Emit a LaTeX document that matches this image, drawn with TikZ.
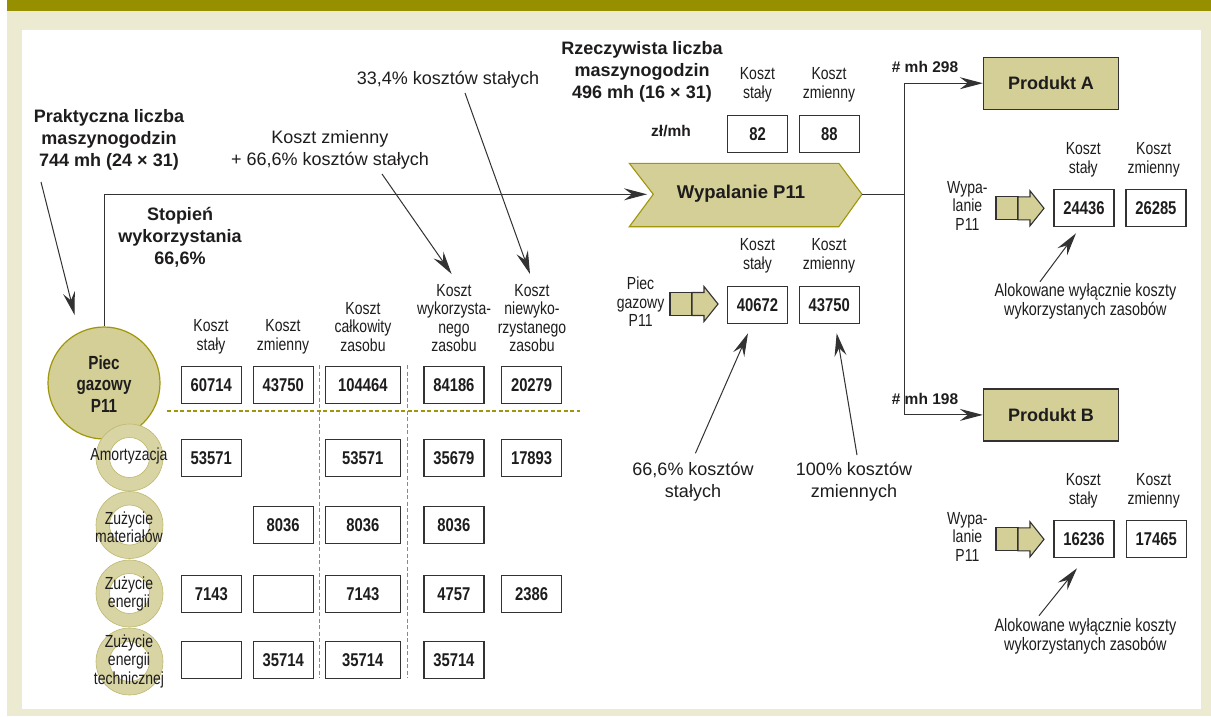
\documentclass[tikz,border=0pt]{standalone}
\usepackage{fontspec}
\setmainfont{Liberation Sans}
\newfontfamily\cnd{Liberation Sans}[FakeStretch=0.8]
\usetikzlibrary{arrows.meta,calc}
\definecolor{olivebar}{RGB}{150,144,0}
\definecolor{beige}{RGB}{236,234,208}
\definecolor{lolive}{RGB}{211,207,150}
\definecolor{ringc}{RGB}{216,212,164}
\definecolor{ringl}{RGB}{190,184,110}
\definecolor{oline}{RGB}{160,150,10}
\definecolor{dk}{RGB}{50,50,50}
\definecolor{txt}{RGB}{30,28,28}
\begin{document}
\begin{tikzpicture}[x=1pt,y=-1pt,
  every node/.style={text=txt},
  ann/.style={font=\fontsize{18}{22}\selectfont, align=center, inner sep=0pt},
  ttl/.style={font=\bfseries\fontsize{18}{22}\selectfont, align=center, inner sep=0pt},
  smallbold/.style={font=\bfseries\fontsize{15.5}{18}\selectfont, inner sep=0pt},
  lbl/.style={font=\cnd\fontsize{17.5}{18.5}\selectfont, align=center, inner sep=0pt},
  numbox/.style={draw=dk, line width=1.3pt, fill=white, minimum width=60pt, minimum height=37pt, inner sep=0pt, font=\cnd\bfseries\fontsize{18.5}{20}\selectfont},
  widebox/.style={numbox, minimum width=75pt},
  prodbox/.style={draw=dk, line width=1.4pt, fill=lolive, minimum width=135pt, minimum height=52pt, inner sep=0pt, font=\bfseries\fontsize{18}{22}\selectfont},
  conn/.style={draw=dk, line width=1pt},
  arr/.style={conn, -{Stealth[length=23pt,width=12pt,inset=8pt]}},
  dsh/.style={draw=oline, line width=1.1pt, dash pattern=on 4pt off 2.5pt},
  iconst/.style={fill=lolive, draw=dk, line width=1.1pt, line join=miter},
  blkarrow/.pic={
    \filldraw[iconst] (0,-11.5) rectangle (22,11.5);
    \filldraw[iconst] (22,-11.5) -- (34,-11.5) -- (34,-17.5) -- (48,0) -- (34,17.5) -- (34,11.5) -- (22,11.5) -- cycle;
  }
]
\useasboundingbox (0,0) rectangle (1211,716);
% background
\fill[white] (0,0) rectangle (1211,716);
\fill[beige] (7,0) rectangle (1211,716);
\fill[olivebar] (7,0) rectangle (1211,11);
\fill[white] (22,30) rectangle (1201,709);

% titles
\node[ttl] (prak) at (109,140) {Praktyczna liczba\\maszynogodzin\\744 mh (24 × 31)};
\node[ttl] (stop) at (180,237) {Stopień\\wykorzystania\\66,6\%};
\node[ttl] (rzecz) at (642,72) {Rzeczywista liczba\\maszynogodzin\\496 mh (16 × 31)};

% annotations
\node[ann] (a334) at (448,80) {33,4\% kosztów stałych};
\node[ann] (azm) at (330,150) {Koszt zmienny\\+ 66,6\% kosztów stałych};
\node[ann] (a666) at (693,482) {66,6\% kosztów\\stałych};
\node[ann] (a100) at (854,482) {100\% kosztów\\zmiennych};

% dashed grid
\draw[dsh] (167,411) -- (580,411);
\draw[dsh] (319.4,365) -- (319.4,678);
\draw[dsh] (407.4,365) -- (407.4,678);

% big circle and rings
\node[circle, fill=lolive, draw=oline, line width=1.2pt, minimum size=112pt, inner sep=0pt] (piec) at (104,383) {};
\node[font=\cnd\bfseries\fontsize{19}{21.5}\selectfont, align=center, inner sep=0pt] (piect) at (104,384) {Piec\\gazowy\\P11};
\foreach \ry in {457.5,525,593.5,661.5}{
  \fill[ringc, even odd rule] (129.5,\ry) circle (33.5pt) (129.5,\ry) circle (20pt);
  \draw[ringl, line width=0.6pt] (129.5,\ry) circle (33.5pt);
  \draw[ringl, line width=0.6pt] (129.5,\ry) circle (20pt);
}
\node[lbl] (r1) at (129,456) {Amortyzacja};
\node[lbl] (r2) at (129,527) {Zużycie\\materiałów};
\node[lbl] (r3) at (129,594) {Zużycie\\energii};
\node[lbl] (r4) at (129,661) {Zużycie\\energii\\technicznej};

% headers
\node[lbl] (h1) at (211,337) {Koszt\\stały};
\node[lbl] (h2) at (283,337) {Koszt\\zmienny};
\node[lbl] (h3) at (363,327) {Koszt\\całkowity\\zasobu};
\node[lbl] (h4) at (454,318) {Koszt\\wykorzysta-\\nego\\zasobu};
\node[lbl] (h5) at (532,318) {Koszt\\niewyko-\\rzystanego\\zasobu};

% table
\node[numbox] (c11) at (211.3,385) {60714};
\node[numbox] (c12) at (283.2,385) {43750};
\node[widebox] (c13) at (362.8,385) {104464};
\node[numbox] (c14) at (453.9,385) {84186};
\node[numbox] (c15) at (531.6,385) {20279};
\node[numbox] (c21) at (211.3,457.7) {53571};
\node[widebox] (c23) at (362.8,457.7) {53571};
\node[numbox] (c24) at (453.9,457.7) {35679};
\node[numbox] (c25) at (531.6,457.7) {17893};
\node[numbox] (c32) at (283.2,525) {8036};
\node[widebox] (c33) at (362.8,525) {8036};
\node[numbox] (c34) at (453.9,525) {8036};
\node[numbox] (c41) at (211.3,594.3) {7143};
\node[numbox] (c42) at (283.2,594.3) {};
\node[widebox] (c43) at (362.8,594.3) {7143};
\node[numbox] (c44) at (453.9,594.3) {4757};
\node[numbox] (c45) at (531.6,594.3) {2386};
\node[numbox] (c51) at (211.3,660) {};
\node[numbox] (c52) at (283.2,660) {35714};
\node[widebox] (c53) at (362.8,660) {35714};
\node[numbox] (c54) at (453.9,660) {35714};

% chevron
\draw[fill=lolive, draw=oline, line width=1.1pt] (629.3,163.3) -- (838.8,163.3) -- (862,194.3) -- (838.8,226.7) -- (629.3,226.7) -- (653.3,194.3) -- cycle;
\node[font=\bfseries\fontsize{18.5}{22}\selectfont, inner sep=0pt] (wyp) at (741,194) {Wypalanie P11};
\coordinate (wypin) at (647,194.3);
\coordinate (wypout) at (862,194.3);
\coordinate (split) at (904,194.3);

% middle group
\node[lbl] (hs1) at (757.4,85) {Koszt\\stały};
\node[lbl] (hz1) at (829,85) {Koszt\\zmienny};
\node[smallbold] (zlmh) at (671,131) {zł/mh};
\node[numbox] (b82) at (757.5,134) {82};
\node[numbox] (b88) at (829.3,134) {88};
\node[lbl] (hs2) at (757.4,256) {Koszt\\stały};
\node[lbl] (hz2) at (829,256) {Koszt\\zmienny};
\node[lbl] (pg) at (640.6,302) {Piec\\gazowy\\P11};
\pic at (670,304) {blkarrow};
\node[numbox] (b40672) at (757.5,304.7) {40672};
\node[numbox] (b43750) at (829.3,304.7) {43750};

% products
\node[prodbox] (prodA) at (1051,83.2) {Produkt A};
\node[prodbox] (prodB) at (1051,414.9) {Produkt B};
\node[smallbold] (mh298) at (925,67) {\# mh 298};
\node[smallbold] (mh198) at (925,399) {\# mh 198};

% right group A
\node[lbl] (hsA) at (1083.3,160) {Koszt\\stały};
\node[lbl] (hzA) at (1153.7,160) {Koszt\\zmienny};
\node[lbl] (wypA) at (967.4,205.5) {Wypa-\\lanie\\P11};
\pic at (996,208.3) {blkarrow};
\node[numbox] (bA1) at (1084,208.3) {24436};
\node[numbox] (bA2) at (1155.9,208.3) {26285};
\node[lbl, font=\cnd\fontsize{18}{19}\selectfont] (alokA) at (1085.4,301.5) {Alokowane wyłącznie koszty\\wykorzystanych zasobów};

% right group B
\node[lbl] (hsB) at (1083.3,491) {Koszt\\stały};
\node[lbl] (hzB) at (1153.7,491) {Koszt\\zmienny};
\node[lbl] (wypB) at (967.4,536.5) {Wypa-\\lanie\\P11};
\pic at (996,539.3) {blkarrow};
\node[numbox] (bB1) at (1084,539.2) {16236};
\node[numbox] (bB2) at (1156.3,539.2) {17465};
\node[lbl, font=\cnd\fontsize{18}{19}\selectfont] (alokB) at (1085.4,636) {Alokowane wyłącznie koszty\\wykorzystanych zasobów};

% connector coordinates
\coordinate (sPrak) at (41,182);
\coordinate (tPiec) at (74.6,315);
\coordinate (sAzm) at (382,174);
\coordinate (tH4) at (451.6,274);
\coordinate (sA334) at (465,93);
\coordinate (tH5) at (530,274);
\coordinate (s666) at (695.4,453.3);
\coordinate (t666) at (748,333.3);
\coordinate (s100) at (857,455);
\coordinate (t100) at (836.7,333.3);
\coordinate (sAlA) at (1040,281.7);
\coordinate (tAlA) at (1076,233.3);
\coordinate (sAlB) at (1039,615.7);
\coordinate (tAlB) at (1077,568.3);

% connectors
\draw[arr] (piec.north) |- (wypin);
\draw[conn] (wypout) -- (split);
\draw[arr] (split) |- (prodA.west);
\draw[arr] (split) |- (prodB.west);
\draw[arr] (sPrak) -- (tPiec);
\draw[arr] (sAzm) -- (tH4);
\draw[arr] (sA334) -- (tH5);
\draw[arr] (s666) -- (t666);
\draw[arr] (s100) -- (t100);
\draw[arr] (sAlA) -- (tAlA);
\draw[arr] (sAlB) -- (tAlB);
\end{tikzpicture}
\end{document}
